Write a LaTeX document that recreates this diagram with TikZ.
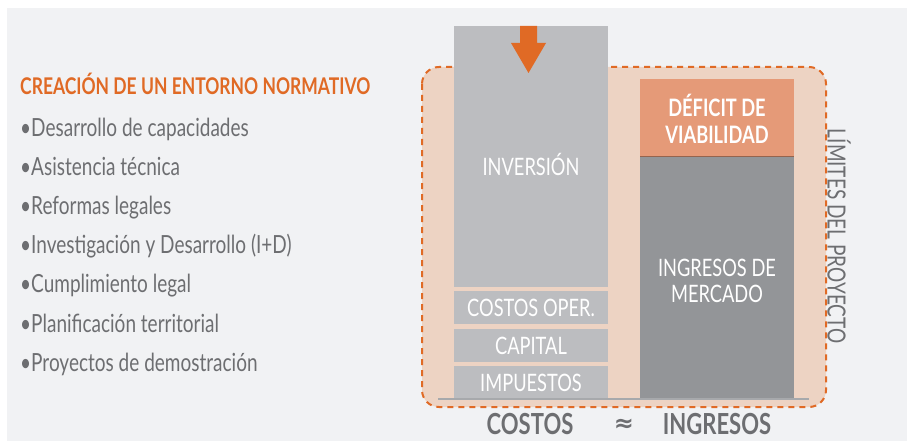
\documentclass[tikz,border=0pt]{standalone}
\usepackage{fontspec}
\setmainfont{Lato}[FakeStretch=0.76]
\newfontfamily\simbolo{DejaVu Sans}
\usepackage{tikz}

\definecolor{fondo}{HTML}{F1F2F4}
\definecolor{marco}{HTML}{EDD3C3}
\definecolor{naranja}{HTML}{E06A25}
\definecolor{grisclaro}{HTML}{BCBDC0}
\definecolor{grisoscuro}{HTML}{939598}
\definecolor{deficit}{HTML}{E59A78}
\definecolor{texto}{HTML}{6D6E71}
\definecolor{linea}{HTML}{A7A9AC}

\tikzset{
  lista/.style={anchor=base west, text=texto, font=\fontsize{25}{26}\selectfont, inner sep=0pt},
  barra/.style={text=white, font=\fontsize{24}{26}\selectfont, align=center, inner sep=0pt},
  total/.style={text=texto, font=\bfseries\fontsize{29}{30}\selectfont, inner sep=0pt}
}

\begin{document}
\begin{tikzpicture}[x=1pt,y=-1pt]
  \useasboundingbox (0,0) rectangle (907,441);
  \fill[fondo] (7,8) rectangle (907,441);

  % marco del proyecto
  \fill[marco, rounded corners=17pt] (422,67) rectangle (826,407);
  \draw[naranja, line width=2pt, dash pattern=on 6pt off 5pt, rounded corners=17pt]
    (422,67) rectangle (826,407);

  % columna de costos
  \fill[grisclaro] (454,26) rectangle (608,287);
  \fill[grisclaro] (454,291) rectangle (608,324);
  \fill[grisclaro] (454,329) rectangle (608,362);
  \fill[grisclaro] (454,366) rectangle (608,398);

  % columna de ingresos
  \fill[deficit] (640,79) rectangle (794,156);
  \fill[grisoscuro] (640,156) rectangle (794,398);
  \draw[black!35!deficit, line width=0.8pt] (640,156) -- (794,156);

  % linea base
  \draw[linea, line width=2pt] (438,399) -- (809,399);

  % flecha
  \fill[naranja] (520,26) -- (537,26) -- (537,43) -- (546,43) -- (528.5,73)
    -- (511,43) -- (520,43) -- cycle;

  % textos de las barras
  \node[barra] (inv) at (531,164) {INVERSIÓN};
  \node[barra] (oper) at (531,308) {COSTOS OPER.};
  \node[barra] (cap) at (531,346) {CAPITAL};
  \node[barra] (imp) at (531,383) {IMPUESTOS};
  \node[barra, font=\bfseries\fontsize{24}{27}\selectfont] (def) at (717,119) {DÉFICIT DE\\VIABILIDAD};
  \node[barra, font=\fontsize{24}{26}\selectfont] (merc) at (717,281) {INGRESOS DE\\MERCADO};

  % limites
  \node[text=texto, rotate=-90, font=\fontsize{25}{26}\selectfont, inner sep=0pt] (lim) at (839,236)
    {LÍMITES DEL PROYECTO};

  % totales
  \node[total] (costos) at (530,424) {COSTOS};
  \node[total, font=\simbolo\bfseries\fontsize{24}{26}\selectfont] (aprox) at (624,425) {≈};
  \node[total] (ingr) at (717,424) {INGRESOS};

  % lista
  \node[anchor=base west, text=naranja, font=\bfseries\fontsize{23}{24}\selectfont, inner sep=0pt] (tit)
    at (20,95) {CREACIÓN DE UN ENTORNO NORMATIVO};
  \node[lista] (l1) at (20,136) {•Desarrollo de capacidades};
  \node[lista] (l2) at (20,175) {•Asistencia técnica};
  \node[lista] (l3) at (20,214) {•Reformas legales};
  \node[lista] (l4) at (20,253) {•Investigación y Desarrollo (I+D)};
  \node[lista] (l5) at (20,292) {•Cumplimiento legal};
  \node[lista] (l6) at (20,332) {•Planificación territorial};
  \node[lista] (l7) at (20,371) {•Proyectos de demostración};
\end{tikzpicture}
\end{document}
